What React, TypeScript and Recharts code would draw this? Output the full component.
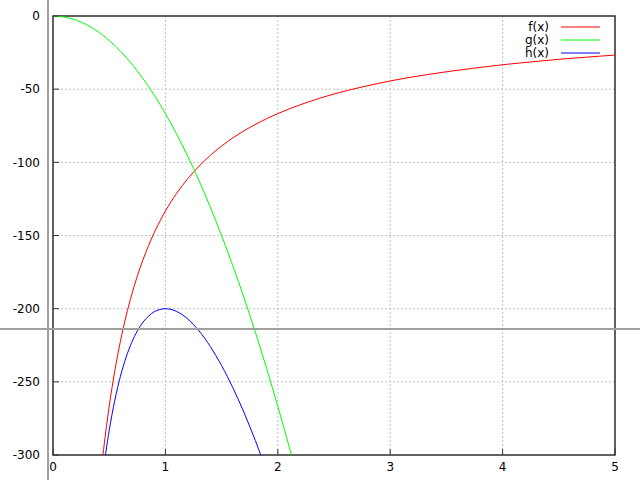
import { LineChart, Line, XAxis, YAxis, CartesianGrid, ReferenceArea, Legend } from "recharts";

// f(x)
const fX = [0.44, 0.45, 0.5, 0.55, 0.6, 0.65, 0.7, 0.75, 0.8, 0.85, 0.9, 0.95, 1.0, 1.1, 1.2, 1.3, 1.4, 1.5, 1.6, 1.7, 1.8, 1.9, 2.0, 2.25, 2.5, 2.75, 3.0, 3.25, 3.5, 3.75, 4.0, 4.25, 4.5, 4.75, 5.0];
const fY = [-303.0, -296.3, -266.7, -242.4, -222.2, -205.1, -190.5, -177.8, -166.7, -156.9, -148.1, -140.4, -133.3, -121.2, -111.1, -102.6, -95.2, -88.9, -83.3, -78.4, -74.1, -70.2, -66.7, -59.3, -53.3, -48.5, -44.4, -41.0, -38.1, -35.6, -33.3, -31.4, -29.6, -28.1, -26.7];

// g(x)
const gX = [0, 0.1, 0.2, 0.3, 0.4, 0.5, 0.6, 0.7, 0.8, 0.9, 1.0, 1.1, 1.2, 1.3, 1.4, 1.5, 1.6, 1.7, 1.8, 1.9, 2.0, 2.1, 2.15];
const gY = [0, -0.7, -2.7, -6.0, -10.7, -16.7, -24.0, -32.7, -42.7, -54.0, -66.7, -80.7, -96.0, -112.7, -130.7, -150.0, -170.7, -192.7, -216.0, -240.7, -266.7, -294.0, -308.2];

// h(x)
const hX = [0.46, 0.47, 0.5, 0.55, 0.6, 0.65, 0.7, 0.75, 0.8, 0.85, 0.9, 0.95, 1.0, 1.05, 1.1, 1.15, 1.2, 1.25, 1.3, 1.35, 1.4, 1.45, 1.5, 1.55, 1.6, 1.65, 1.7, 1.75, 1.8, 1.85, 1.9];
const hY = [-303.9, -298.4, -283.3, -262.6, -246.2, -233.3, -223.1, -215.3, -209.3, -205.1, -202.1, -200.6, -200.0, -200.5, -201.9, -204.1, -207.1, -210.9, -215.3, -220.3, -225.9, -232.2, -238.9, -246.2, -254.0, -262.3, -271.1, -280.4, -290.1, -300.3, -310.9];

const xTicks = [0, 1, 2, 3, 4, 5];
const yTicks = [0, -50, -100, -150, -200, -250, -300];

const toPoints = (xs: number[], ys: number[]) => xs.map((x, i) => ({ x, y: ys[i] }));

const series = [
  { name: "f(x)", color: "#ff0000", data: toPoints(fX, fY) },
  { name: "g(x)", color: "#00ff00", data: toPoints(gX, gY) },
  { name: "h(x)", color: "#0000ff", data: toPoints(hX, hY) },
];

const FONT = "'DejaVu Sans', sans-serif";

function KeyBox() {
  return (
    <div style={{ fontFamily: FONT, fontSize: 12, color: "#000" }}>
      {series.map((s) => (
        <div key={s.name} style={{ display: "flex", alignItems: "center", height: 13, lineHeight: "13px" }}>
          <span style={{ width: 40, textAlign: "right" }}>{s.name}</span>
          <svg width={39} height={13} style={{ marginLeft: 12 }}>
            <line x1={0} x2={39} y1={6} y2={6} stroke={s.color} strokeWidth={1} />
          </svg>
        </div>
      ))}
    </div>
  );
}

export default function App() {
  const tickStyle = { fill: "#000", fontSize: 12, fontFamily: FONT };
  return (
    <div style={{ position: "absolute", left: 0, top: 0, width: 640, height: 480, background: "#fff" }}>
      <LineChart width={640} height={480} margin={{ top: 16, right: 25, bottom: 0, left: 0 }}>
        <CartesianGrid stroke="#c0c0c0" strokeDasharray="2 2" />
        <XAxis
          dataKey="x"
          type="number"
          domain={[0, 5]}
          ticks={xTicks}
          allowDataOverflow
          height={25}
          axisLine={false}
          tickSize={-6}
          tickMargin={13}
          tickLine={{ stroke: "#333" }}
          tick={tickStyle}
        />
        <XAxis
          xAxisId="top"
          orientation="top"
          type="number"
          domain={[0, 5]}
          ticks={xTicks}
          height={0}
          axisLine={false}
          tickSize={-6}
          tickLine={{ stroke: "#333" }}
          tick={false}
        />
        <YAxis
          type="number"
          domain={[-300, 0]}
          ticks={yTicks}
          allowDataOverflow
          width={53}
          axisLine={false}
          tickSize={-6}
          tickMargin={19}
          tickLine={{ stroke: "#333" }}
          tick={tickStyle}
        />
        <YAxis
          yAxisId="right"
          orientation="right"
          type="number"
          domain={[-300, 0]}
          ticks={yTicks}
          width={0}
          axisLine={false}
          tickSize={-6}
          tickLine={{ stroke: "#333" }}
          tick={false}
        />
        {series.map((s) => (
          <Line
            key={s.name}
            data={s.data}
            dataKey="y"
            name={s.name}
            type="monotone"
            stroke={s.color}
            strokeWidth={1}
            dot={false}
            activeDot={false}
            isAnimationActive={false}
          />
        ))}
        <ReferenceArea x1={0} x2={5} y1={-300} y2={0} fill="none" stroke="#333" strokeWidth={1.5} ifOverflow="visible" />
        <Legend
          verticalAlign="middle"
          align="center"
          layout="horizontal"
          content={KeyBox}
          wrapperStyle={{ top: 20.5, right: 40, left: "auto", bottom: "auto", width: "auto", height: "auto" }}
        />
      </LineChart>
      <div style={{ position: "absolute", left: 47, top: 0, width: 2, height: 480, background: "#a0a0a0" }} />
      <div style={{ position: "absolute", left: 0, top: 328, width: 640, height: 2, background: "#a0a0a0" }} />
    </div>
  );
}
